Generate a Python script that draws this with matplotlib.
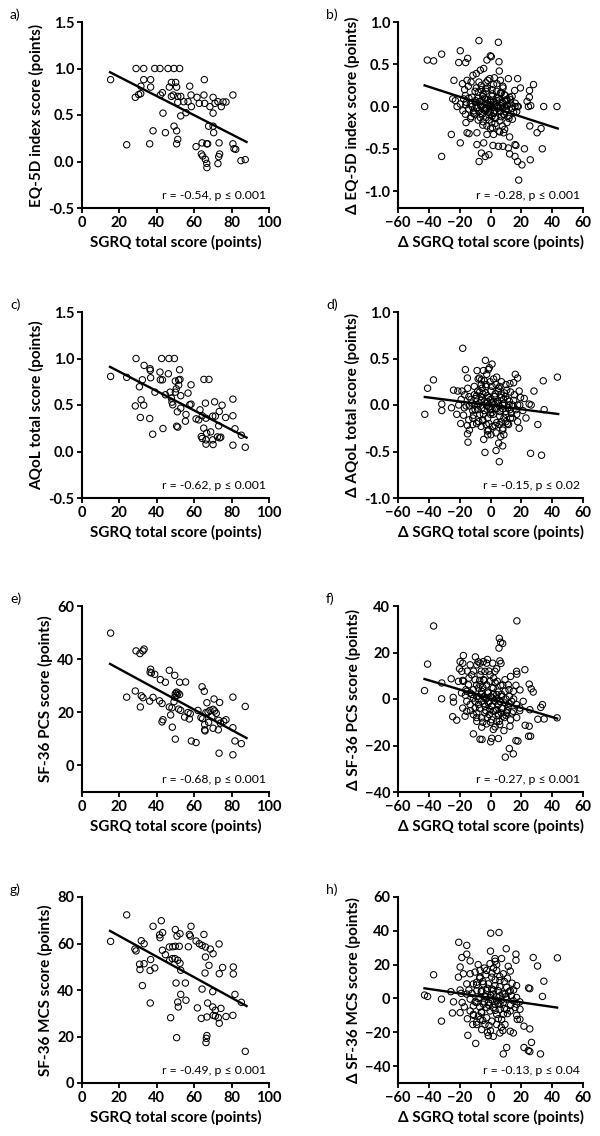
import matplotlib
matplotlib.use("Agg")
import matplotlib.pyplot as plt
import numpy as np

plt.rcParams['font.family'] = ['Lato', 'DejaVu Sans']

# ---------------- data ----------------
# panel a: SGRQ vs EQ-5D
a_x = [28.9, 33.0, 38.9, 41.7, 46.0, 49.2, 52.2, 15.3, 33.0, 36.7, 65.4, 31.5, 36.7, 47.8, 50.1, 46.7, 50.6, 57.6,
       28.5, 30.3, 31.4, 41.9, 43.0, 47.8, 48.8, 51.2, 52.8, 58.3, 61.5, 65.2, 70.1, 80.7,
       51.2, 54.4, 56.7, 58.5, 62.7, 65.6, 68.4, 71.1, 72.7, 74.5, 75.4, 77.0,
       43.3, 52.8, 55.6, 70.1, 67.7, 70.1, 49.2, 38.0, 44.6, 50.6, 70.4,
       23.9, 36.2, 51.2, 50.6, 61.0, 64.2, 66.7, 67.2, 73.3, 80.7, 81.3, 82.2,
       63.8, 64.5, 66.0, 66.7, 66.8, 73.6, 73.1, 72.7, 85.0, 87.3]
a_y = [1.0, 1.0, 1.0, 1.0, 1.0, 1.0, 1.0, 0.88, 0.88, 0.88, 0.88, 0.81, 0.80, 0.85, 0.85, 0.80, 0.80, 0.81,
       0.69, 0.72, 0.73, 0.715, 0.74, 0.70, 0.715, 0.70, 0.70, 0.715, 0.69, 0.715, 0.69, 0.715,
       0.636, 0.643, 0.643, 0.59, 0.625, 0.625, 0.59, 0.625, 0.643, 0.59, 0.64, 0.64,
       0.52, 0.49, 0.525, 0.52, 0.38, 0.38, 0.38, 0.33, 0.31, 0.33, 0.31,
       0.18, 0.19, 0.238, 0.19, 0.16, 0.20, 0.19, 0.19, 0.20, 0.19, 0.138, 0.131,
       0.081, 0.059, 0.023, -0.02, -0.066, 0.08, 0.052, -0.023, 0.009, 0.02]

# panel c: SGRQ vs AQoL
c_x = [28.9, 42.6, 46.5, 49.4, 15.3, 23.9, 33.2, 36.4, 36.5, 36.7, 41.7, 46.2, 41.9, 43.0, 32.3, 52.2, 65.2, 67.9,
       49.9, 51.7, 52.4, 30.7, 39.0, 51.7, 50.4, 58.3, 47.1, 49.9, 44.6, 52.8, 56.7, 47.8,
       31.6, 28.5, 33.0, 48.1, 48.5, 52.8, 57.6, 58.3, 63.1, 66.0, 70.9, 74.9, 80.7,
       31.2, 36.2, 51.0, 55.6, 55.3, 61.0, 62.4, 64.3, 66.3, 69.9, 71.3, 73.4, 76.8, 80.7,
       43.3, 50.6, 51.2, 37.8, 65.1, 68.8, 73.1, 81.8, 85.2,
       63.8, 64.3, 66.7, 66.3, 69.9, 72.4, 73.6, 74.2, 66.3, 70.1, 80.7, 87.3]
c_y = [1.0, 1.0, 1.0, 1.0, 0.807, 0.797, 0.926, 0.89, 0.872, 0.793, 0.854, 0.836, 0.771, 0.771, 0.771, 0.879, 0.775, 0.775,
       0.757, 0.768, 0.775, 0.696, 0.638, 0.714, 0.674, 0.717, 0.638, 0.638, 0.61, 0.60, 0.628, 0.574,
       0.556, 0.49, 0.498, 0.531, 0.502, 0.466, 0.502, 0.509, 0.448, 0.52, 0.534, 0.498, 0.563,
       0.366, 0.355, 0.427, 0.398, 0.326, 0.351, 0.34, 0.384, 0.358, 0.38, 0.38, 0.43, 0.366, 0.384,
       0.247, 0.272, 0.262, 0.186, 0.251, 0.211, 0.276, 0.244, 0.175,
       0.161, 0.14, 0.197, 0.125, 0.125, 0.157, 0.147, 0.154, 0.079, 0.075, 0.068, 0.046]

# panel e: SGRQ vs SF-36 PCS
e_x = [15.3, 28.9, 31.0, 33.2, 32.6, 36.7, 36.4, 37.1, 38.9, 46.7, 49.6, 41.9, 44.6, 52.2, 55.4,
       64.2, 65.4, 50.6, 51.3, 49.9, 52.2, 50.8, 49.6, 28.5, 31.7, 32.6, 23.9, 38.0, 36.2, 41.5, 42.8, 31.2,
       80.7, 70.6, 73.6, 87.3, 66.8,
       46.7, 48.1, 49.2, 51.7, 52.8, 47.4, 54.9, 56.7, 57.9, 57.4, 62.0, 63.6, 66.3, 67.4, 68.4, 70.1, 70.9, 71.8,
       69.5, 64.5, 65.6, 67.7, 73.1, 75.8, 77.0, 74.0, 70.1, 65.6, 65.8, 72.9, 80.7,
       43.3, 42.8, 48.3, 49.9, 58.5, 61.0, 81.8, 85.2, 73.3, 80.7]
e_y = [49.8, 43.1, 42.1, 43.8, 43.1, 36.2, 35.1, 34.8, 34.3, 35.8, 33.9, 32.3, 31.3, 31.3, 31.4,
       29.6, 27.9, 27.6, 27.2, 27.0, 26.7, 26.4, 25.7, 28.0, 26.2, 25.5, 25.7, 25.6, 24.2, 24.3, 23.3, 22.0,
       25.7, 25.0, 23.7, 22.2, 23.6,
       22.0, 21.7, 24.0, 21.2, 20.7, 19.0, 18.2, 19.9, 19.5, 17.5, 20.7, 18.0, 19.9, 20.1, 20.7, 21.1, 20.5, 19.6,
       18.3, 17.6, 15.4, 16.2, 17.0, 16.6, 17.2, 15.9, 14.0, 13.4, 13.0, 13.4, 14.2,
       17.2, 16.4, 14.4, 9.9, 9.2, 8.6, 9.2, 8.2, 4.6, 4.0]

# panel g: SGRQ vs SF-36 MCS
g_x = [23.9, 42.4, 38.0, 58.3, 43.1, 41.5, 41.7, 49.9, 52.4, 50.8, 57.4, 57.9, 65.2, 15.3, 31.7, 33.2, 28.3, 28.9,
       46.7, 48.5, 49.9, 52.0, 56.9, 61.0, 62.7, 64.2, 66.0, 73.3, 68.6, 70.1, 43.0, 44.6,
       30.8, 33.2, 31.0, 36.7, 36.4, 38.9, 46.9, 48.3, 49.7, 51.2, 52.4, 52.8, 66.0, 67.9, 65.8, 73.4, 75.2, 80.9, 80.9,
       32.3, 50.3, 55.3, 64.2, 69.9, 81.8, 85.2, 52.8, 36.5, 51.2, 55.6, 51.5, 47.4, 61.7, 67.2, 69.9, 74.3, 71.3,
       63.8, 66.8, 70.2, 71.3, 72.9, 77.0, 80.7, 73.4,
       50.6, 66.8, 66.5, 66.3, 87.3]
g_y = [72.3, 69.8, 67.4, 67.4, 64.7, 63.7, 62.5, 66.0, 64.2, 63.2, 63.9, 63.2, 63.9, 60.9, 61.2, 59.9, 57.6, 56.8,
       58.5, 58.6, 58.8, 58.8, 58.6, 61.1, 59.9, 59.2, 58.5, 59.8, 57.6, 55.6, 57.1, 55.2,
       51.1, 51.3, 48.8, 53.1, 48.4, 49.5, 52.8, 53.5, 53.5, 52.8, 51.5, 48.5, 54.2, 50.6, 47.3, 47.0, 49.7, 49.9, 46.9,
       41.9, 43.0, 43.0, 40.4, 39.3, 38.1, 34.7, 38.1, 34.4, 34.8, 35.6, 32.7, 28.1, 32.3, 34.4, 32.7, 32.1, 31.3,
       27.8, 28.4, 29.1, 28.8, 28.1, 28.6, 29.1, 25.7,
       19.5, 20.4, 19.2, 17.4, 13.6]

# panel b: delta SGRQ vs delta EQ-5D
b_x = [-42.7, -41.0, -36.9, -31.7, -31.7, -23.7, -25.4, -24.5, -19.6, -20.6, -16.1, -14.8, -19.6, -7.5, 5.1,
       -0.1, 0.5, -2.3, 5.5, 5.7, -7.4, -5.9, -3.4, -1.0, -8.8, 1.6, 5.1, 8.1, 11.6, 12.4, 15.9, 17.6, 20.4,
       18.3, 22.0, 25.8, 33.6, 30.2, 32.8, 25.5, 23.7, 25.2, 27.9, 25.3, 26.1, 24.6, 34.5, 43.1, 19.4, 17.4,
       15.9, 15.7, 17.6, 11.6, 12.4, 15.9, 16.5, 8.5, 9.2, -13.9, -15.2, -15.9, -8.8, -4.4, -2.3, 2.0, -2.3,
       -22.8, -21.7, -19.6, -17.9, -18.2, -16.8, -15.2, -14.4, -12.6, -17.4, -15.7, -16.3, -13.1, -10.9,
       -12.6, -10.4, -11.4, -9.2, -6.6, -4.4, -7.5, -9.2, -7.9, -6.2, -4.8, -3.1, -1.8, -0.5, 2.5, 4.2, 6.4,
       8.1, 6.4, 9.6, 12.4, 10.7, 13.3, 7.7, 4.2, 1.2, -0.1, -2.3, -4.4, -6.6, -8.8, -7.5, -5.3, -3.1, -1.0,
       1.2, 2.9, 4.6, 6.4, 8.5, 10.3, 12.0, 15.0, 14.2, 10.7, 6.0, 3.4, 0.8, -1.0, -4.8, -6.6, 7.7, 5.5, 1.2,
       4.2, 9.0, -3.1, -5.5, -2.3, -0.1, 2.0, 6.4, 10.7, 1.1, -3.4, -9.8, -12.0, -14.2, -16.3,
       -12, -10, -8, -6, -5, -4, -3, -2, -1, 0, 1, 2, 3, 4, 5, 6, 7, 8, 9, 10, 11, 13, 14, 16,
       -14, -11, -9, -7, -6, -4, -3, -2, -1, 0, 1, 2, 3, 4, 5, 6, 7, 8, 9, 10, 12, -8, -5, 0, 3, 6,
       -10, -6, -3, 2, 8, 14, 17, -16, -13, 18]
b_y = [0.0, 0.55, 0.54, 0.62, -0.59, 0.31, -0.33, 0.09, 0.66, 0.52, 0.52, 0.57, -0.43, 0.78, 0.76,
       0.60, 0.59, 0.55, 0.53, 0.42, -0.65, -0.55, -0.59, -0.57, -0.45, -0.46, -0.47, -0.47, -0.49, -0.56,
       -0.59, -0.65, -0.69, -0.87, -0.50, -0.63, -0.50, -0.31, -0.26, -0.23, 0.06, 0.11, 0.26, 0.19, 0.01,
       0.0, 0.0, 0.0, 0.22, 0.0, 0.0, 0.19, 0.33, 0.33, -0.36, -0.45, -0.46, -0.31, -0.27, -0.32, -0.31,
       -0.19, -0.31, -0.43, -0.23, -0.33, -0.33,
       0.07, 0.0, 0.03, -0.05, 0.27, 0.20, 0.31, 0.24, 0.29, 0.09, 0.05, 0.13, 0.03, -0.05, -0.12, -0.09,
       0.37, 0.39, 0.43, 0.45, 0.29, 0.22, 0.17, 0.20, 0.15, 0.21, 0.31, 0.33, 0.34, 0.27, 0.31, 0.22, 0.16,
       0.13, 0.11, 0.07, 0.03, 0.05, 0.11, 0.15, 0.07, 0.03, -0.01, 0.02, -0.01, -0.05, -0.09, -0.13, -0.07,
       -0.01, -0.05, 0.0, -0.05, -0.09, -0.03, -0.11, -0.07, -0.15, -0.19, -0.17, -0.13, -0.19, -0.16, -0.18,
       -0.13, -0.23, -0.29, -0.25, 0.07, 0.0, 0.09, 0.07, -0.03, 0.0, 0.03, 0.01, 0.01, -0.11, -0.05, 0.07,
       0.11, -0.03, -0.09,
       0.0, 0.05, 0.10, 0.0, 0.12, -0.04, 0.18, 0.08, -0.10, 0.05, 0.12, -0.08, 0.02, 0.18, -0.02, 0.08,
       -0.12, 0.04, 0.14, -0.06, 0.02, 0.08, -0.02, 0.04,
       0.10, -0.08, -0.02, 0.06, -0.08, 0.10, -0.02, 0.22, 0.02, -0.06, 0.20, 0.06, -0.14, 0.0, 0.10, -0.06,
       0.16, -0.02, -0.10, 0.08, -0.14, -0.16, -0.22, -0.26, -0.20, -0.30,
       0.18, 0.25, 0.28, 0.26, 0.24, 0.12, -0.06, 0.02, -0.14, 0.0]

# panel d: delta SGRQ vs delta AQoL
d_x = [-42.6, -40.8, -37.0, -31.6, -31.6, -25.3, -24.0, -21.9, -19.3, -18.0, -16.3, -21.2, -18.5, -20.6, -16.7,
       -14.8, -15.0, -14.9, -14.6, -17.5, -14.1, -13.7, -11.5, -15.8, -10.5, -8.7, -7.2, -5.9, -4.6, -3.3, -2.5,
       -1.4, -0.8, 1.0, -4.4, -3.6, -1.8, 0.3, 3.6, 5.3, 5.7, 6.6, 8.7, 7.9, 10.0, 11.7, 12.6, 15.0, 16.1, 17.6,
       18.6, 19.5, 21.9, 17.6, 18.6, 23.0, 25.1, 26.4, 28.2, 30.7, 26.0, 33.1, 34.2, 34.8, 43.4,
       -10.5, -9.4, -8.3, -7.2, -6.1, -5.5, -4.6, -4.0, -3.3, -2.5, -1.8, -1.2, -0.3, 0.3, 1.0, 1.8, 2.5, 3.1,
       4.0, 4.6, 5.3, 6.1, 6.8, 7.9, 8.7, 9.6, 10.5, 11.4, 12.2, 13.5, 14.3, 15.4, 16.5, 17.6, -11.5, -12.6,
       -13.7, -7.6, -6.1, -5.0, -2.8, -1.2, 1.4, 3.6, 5.7, 7.9, 10.0, 14.3, -2.8, -0.3, 3.6, 7.1, 10.0, -8.3,
       -10.5, -5.5, 1.0, 3.6, -1.8, 5.7, 8.5, 12.6, -11.5,
       -12, -10, -9, -8, -7, -6, -5, -4, -3, -2, -1, 0, 1, 2, 3, 4, 5, 6, 7, 8, 9, 10, 11, 12, 13,
       -14, -11, -7, -5, -3, -1, 1, 3, 5, 7, 9, 11, -9, -6, 0, 2, 4, 6, -4, -2, 8,
       15, 17, 19, 21, -17, -19, -15, 13, -8]
d_y = [-0.10, 0.18, 0.27, 0.01, -0.06, -0.03, 0.16, -0.10, -0.20, 0.61, 0.38, 0.15, 0.15, 0.0, 0.11,
       0.18, 0.29, -0.31, -0.40, -0.11, -0.16, -0.27, -0.06, -0.01, 0.20, 0.37, 0.29, 0.27, 0.37, 0.48, 0.33,
       0.38, 0.40, 0.44, -0.37, -0.51, -0.32, -0.32, -0.49, -0.41, -0.61, -0.34, -0.32, -0.44, -0.07, -0.21,
       0.23, 0.24, 0.33, 0.29, 0.15, 0.08, 0.07, -0.18, -0.25, -0.14, 0.01, 0.0, 0.15, -0.21, -0.52, -0.54,
       0.26, -0.05, 0.30,
       0.0, 0.07, -0.05, 0.02, 0.09, -0.03, -0.10, 0.04, 0.13, -0.01, -0.14, 0.08, -0.05, 0.15, 0.02, -0.10,
       0.09, -0.04, -0.19, 0.04, 0.18, -0.07, 0.11, 0.0, -0.14, 0.09, 0.16, -0.03, 0.04, -0.09, 0.0, 0.11,
       -0.05, 0.0, -0.14, 0.06, -0.01, -0.18, -0.23, -0.16, -0.21, -0.27, -0.23, -0.30, -0.21, -0.27, -0.18,
       -0.14, 0.22, 0.25, 0.22, 0.25, 0.22, 0.15, 0.11, 0.18, -0.05, 0.02, 0.03, -0.01, 0.06, -0.05, -0.21,
       0.02, -0.05, 0.10, 0.0, -0.10, 0.05, 0.12, -0.06, 0.02, 0.10, -0.02, 0.06, -0.08, 0.04, 0.12, -0.04,
       0.02, -0.12, 0.08, -0.04, 0.02, -0.10, 0.06, 0.0, -0.14,
       0.09, -0.11, 0.14, -0.17, 0.20, -0.20, 0.20, -0.22, 0.15, -0.18, 0.13, -0.20, -0.20, 0.22, -0.10,
       0.28, 0.30, 0.20, 0.26, -0.28, -0.25,
       0.05, -0.10, 0.0, -0.06, -0.03, 0.06, -0.22, 0.14, 0.28]

# panel f: delta SGRQ vs delta SF-36 PCS
f_x = [-36.9, -40.8, -42.8, -31.6, -31.7, -25.5, -24.2, -24.0, -24.5, -21.9, -17.6, -19.7, -18.0, -20.1, -18.6,
       -20.8, -17.6, -18.8, -16.3, -18.0, -16.5, -15.4, -9.8, -11.1, -6.8, -5.5, 0.1, 0.8, 5.1, 5.7, 6.6, 7.9,
       5.5, 6.1, 6.8, 9.6, 12.2, 17.1, 16.9, 17.1, 22.3, 25.1, 27.7, 26.4, 22.5, 25.1, 24.7, 26.0, 16.5, 17.8,
       14.8, 30.7, 33.7, 32.6, 34.8, 43.2, 25.5, 21.2, 19.1, 16.5, 14.8, 12.6, 8.7, 5.7, 1.8, -2.5, -5.7, -8.9,
       -11.1,
       -13.2, -12.2, -8.9, -6.8, -4.6, -2.5, 1.4, 2.9, -0.3, -3.6, -6.8, -10.0, -14.3, -13.2, -11.1, -8.9,
       -6.8, -4.6, -2.5, -0.3, 1.8, 4.4, 6.6, 9.4, 11.5, 13.0, 14.8, 12.2, 9.4, 7.2, 4.0, 1.4, -1.4, -4.2,
       -5.7, -7.8, -10.0, -13.2, -15.4, -3.6, -1.4, 0.8, 2.9, 5.1, 7.2, 9.4, 11.5, 13.7, 16.9, 19.1, 10.5,
       8.0, 5.1, 1.8, -0.8, -3.6, -5.7, -8.9, 0.8, 4.0, -2.5, -0.3, 4.0, -11.1, 6.1, -5.7, -7.8, -15.4,
       -12, -10, -9, -8, -7, -6, -5, -4, -3, -2, -1, 0, 1, 2, 3, 4, 5, 6, 7, 8, 9, 10, 11, 12, 13,
       -14, -11, -9, -6, -4, -2, 0, 2, 4, 6, 8, 10, 12, 14, -16, -13, -7, -3, 1, 3, 5, 7, -1, -5,
       15, 17, 19, -18, -15, 3, -8, -2]
f_y = [31.4, 15.0, 3.6, 6.9, 0.1, 8.7, 0.7, -1.3, -7.6, -9.1, 18.7, 16.1, 15.4, 13.0, 11.9,
       7.6, 7.6, 2.6, 1.6, -3.9, -7.4, -5.3, 18.1, -15.0, -17.3, -17.4, -18.4, -16.9, -17.0, 26.1, 24.4, 23.9,
       21.9, 16.4, 15.3, -25.0, -21.3, 33.6, 11.9, 10.7, 12.6, 6.4, 3.0, 4.4, -11.3, -11.7, -16.0, -16.0,
       -17.9, -18.1, -23.6, -8.7, -2.4, -3.6, -8.6, -8.1, -4.6, -1.0, 3.9, 5.9, -5.3, -11.7, -13.6, -9.6,
       -13.1, -10.7, -12.1, -9.6, -6.7,
       14.7, 10.4, 14.7, 15.4, 16.1, 15.4, 15.4, 11.9, 10.4, 11.9, 10.4, 8.3, 6.1, 2.6, 4.0, 1.1,
       6.1, 8.3, 6.1, 7.6, 4.7, 7.6, 5.9, 8.3, 6.1, 9.7, 3.3, 1.1, 3.3, 1.1, 1.9, 0.4, 2.6, 1.1,
       -1.0, -2.4, -3.9, -2.4, -1.0, -3.1, -1.7, -3.1, -1.0, -2.4, -3.9, -1.7, -3.1, -1.0, -2.4, -3.9, -6.0,
       -7.4, -6.4, -5.3, -6.7, -6.0, -8.1, -6.0, -8.9, -9.6, 0.4, -4.6, -4.6, 0.4, -1.0, 3.3, 4.7, 3.3,
       2, -1, 6, 0, -4, 2, 5, -2, 0, 3, -1, 1, -3, 2, -5, 0, -7, -1, 2, -4, -8, 0, -5, -2, -9,
       9, 12, -8, 12, 8, -8, -10, 9, 13, -11, 6, -7, 4, -6, 4, -5, 8, -5, 5, 7, 3, -6, 12, -10,
       0, -8, -5, 8, 12, -12, 16, 17]

# panel h: delta SGRQ vs delta SF-36 MCS
h_x = [-42.8, -40.8, -36.9, -31.8, -31.8, -25.7, -24.0, -24.7, -20.6, -15.4, -18.6, -15.4, -13.2, -19.7, -17.6,
       -20.8, -19.7, -18.4, -19.7, -14.7, -9.6, 0.1, 5.5, 10.2, 7.2, 11.5, 12.8, 16.5, 16.5, 16.9, 27.7, 30.5,
       43.4, 34.6, 33.7, 25.5, 24.7, 32.4, 8.3, 26.6, 25.5, 24.5, 21.7, 10.5, 25.5, 21.7, 19.1, 17.4, 14.8,
       12.8, 9.4, 6.1, 1.8, -1.4, -5.7, -8.9, -11.5, -6.8, 16.9, 16.9, 19.1, 12.8, 15.9,
       -11.1, -8.9, -6.8, -4.6, -2.5, -0.3, 0.8, 2.9, 4.0, 6.1, 8.3, 10.5, 12.8, -2.5, -0.3, 1.8, 4.0, 6.1,
       8.3, 10.5, -6.8, -8.9, -11.1, -13.2, -15.4, -4.6, -2.5, -0.3, 1.8, 4.0, 6.1, 8.3, 10.5, -5.7, -7.8,
       -11.1, -13.2, -2.5, 0.8, 4.0, 7.2, -3.6, -6.8, -10.0, -13.2, -15.4, -1.4, 2.9, 5.1, 0.8, -3.6, -5.7,
       -8.9, -1.4, 2.9, 6.1, 9.4, 14.8, 13.6,
       -12, -10, -9, -8, -7, -6, -5, -4, -3, -2, -1, 0, 1, 2, 3, 4, 5, 6, 7, 8, 9, 10, 11, 12, 13,
       -14, -11, -7, -5, -3, -1, 1, 3, 5, 7, 9, 11, -9, -6, 0, 2, 4, 6, -4, -2, 8,
       15, 17, 19, -17, -19, -15, 14, -8, 0, 3]
h_y = [2.0, 1.2, 14.0, -0.4, -13.4, 4.0, -2.0, -8.6, 33.2, 31.4, 24.2, 26.2, 22.2, 18.6, 14.6,
       12.6, 5.0, -2.4, -8.4, -21.8, -26.6, 38.6, 39.0, 29.4, 23.6, 19.0, 16.2, 26.2, 22.6, 7.6, 24.2, 19.2,
       24.0, 10.2, 1.2, 5.8, 6.2, -32.8, -32.8, -26.0, -31.4, -30.8, -29.0, -29.0, -18.0, -16.4, -12.4, -12.4,
       -20.4, -19.4, -15.4, -20.4, -22.4, -22.0, -18.4, -15.4, -15.4, -12.4, 0.6, -3.4, -6.4, -7.4, -5.4,
       8.6, 4.6, 12.6, 8.6, 16.6, 20.6, 12.6, 23.6, 16.6, 10.6, 14.6, 6.6, 4.6, 4.6, 0.6, 2.6, -1.4, 1.6,
       -2.4, -0.4, 0.6, -2.4, -4.4, -0.4, 2.6, -3.4, -5.4, -7.4, -5.4, -9.4, -6.4, -9.4, -6.4, -8.4, -10.4,
       -9.4, -7.4, -11.4, -13.4, -15.4, -12.4, -15.4, 16.6, 15.6, 14.6, 8.6, 8.6, 7.6, 4.6, 5.6, 1.6, 4.6,
       9.6, -2.4, -3.4, -3.4, 2.6, -1.4, 1.6,
       3, -2, 8, 0, -5, 4, 10, -2, 1, 6, -4, 2, -1, 5, -7, 1, -3, 7, -1, 3, -6, 1, -9, 4, -4,
       5, -10, 12, -13, 14, -16, 15, 11, -12, -17, 10, 12, -14, -8, -19, 18, 20, 13, 18, -20, -19,
       5, -10, -2, -5, 3, -12, 9, 20, 28, 22]

# regression line end points (x, y)
a_fit = [(15, 0.96), (88, 0.21)]
c_fit = [(15, 0.91), (88, 0.15)]
e_fit = [(15, 38.2), (88, 10.3)]
g_fit = [(15, 65.4), (88, 33.1)]
b_fit = [(-42.7, 0.25), (43.6, -0.26)]
d_fit = [(-42.6, 0.086), (43.9, -0.097)]
f_fit = [(-42.8, 8.6), (43.2, -8.4)]
h_fit = [(-42.8, 6.0), (43.2, -5.4)]

panel_labels = ['a)', 'b)', 'c)', 'd)', 'e)', 'f)', 'g)', 'h)']
y_labels = ['EQ-5D index score (points)', '\u0394 EQ-5D index score (points)',
            'AQoL total score (points)', '\u0394 AQoL total score (points)',
            'SF-36 PCS score (points)', '\u0394 SF-36 PCS score (points)',
            'SF-36 MCS score (points)', '\u0394 SF-36 MCS score (points)']
x_labels = ['SGRQ total score (points)', '\u0394 SGRQ total score (points)']
stats = ['r = -0.54, p \u2264 0.001', 'r = -0.28, p \u2264 0.001',
         'r = -0.62, p \u2264 0.001', 'r = -0.15, p \u2264 0.02',
         'r = -0.68, p \u2264 0.001', 'r = -0.27, p \u2264 0.001',
         'r = -0.49, p \u2264 0.001', 'r = -0.13, p \u2264 0.04']
y_limits = [(-0.5, 1.5), (-1.2, 1.0), (-0.5, 1.5), (-1.0, 1.0), (-10, 60), (-40, 40), (0, 80), (-50, 60)]
y_ticks = [[-0.5, 0.0, 0.5, 1.0, 1.5], [-1.0, -0.5, 0.0, 0.5, 1.0],
           [-0.5, 0.0, 0.5, 1.0, 1.5], [-1.0, -0.5, 0.0, 0.5, 1.0],
           [0, 20, 40, 60], [-40, -20, 0, 20, 40], [0, 20, 40, 60, 80], [-40, -20, 0, 20, 40, 60]]
x_limits = [(0, 100), (-60, 60)]
x_ticks = [[0, 20, 40, 60, 80, 100], [-60, -40, -20, 0, 20, 40, 60]]

xs = [a_x, b_x, c_x, d_x, e_x, f_x, g_x, h_x]
ys = [a_y, b_y, c_y, d_y, e_y, f_y, g_y, h_y]
fits = [a_fit, b_fit, c_fit, d_fit, e_fit, f_fit, g_fit, h_fit]

# ---------------- figure ----------------
W, H = 600, 1136
fig = plt.figure(figsize=(W / 100, H / 100), dpi=100)

col_left = [82, 398]
col_width = [187, 185]
row_top = [22, 312, 606, 897]
ax_h = 186

for i in range(8):
    r, c = divmod(i, 2)
    left = col_left[c] / W
    bottom = 1 - (row_top[r] + ax_h) / H
    ax = fig.add_axes([left, bottom, col_width[c] / W, ax_h / H])
    ax.scatter(xs[i], ys[i], s=21, facecolors='none', edgecolors='black', linewidths=0.75, zorder=2)
    (x0, y0), (x1, y1) = fits[i]
    ax.plot([x0, x1], [y0, y1], color='black', lw=1.7, zorder=3)
    ax.set_xlim(*x_limits[c])
    ax.set_ylim(*y_limits[i])
    ax.set_xticks(x_ticks[c])
    ax.set_yticks(y_ticks[i])
    if i in (0, 1, 2, 3):
        ax.set_yticklabels([f'{v:.1f}' for v in y_ticks[i]])
    for s in ('top', 'right'):
        ax.spines[s].set_visible(False)
    for s in ('left', 'bottom'):
        ax.spines[s].set_linewidth(1.5)
    ax.tick_params(direction='out', length=3.5, width=1.3, labelsize=10.5, pad=2)
    for lab in ax.get_xticklabels() + ax.get_yticklabels():
        lab.set_fontweight('bold')
    ax.set_xlabel(x_labels[c], fontsize=11, fontweight='bold', labelpad=4)
    ax.set_ylabel(y_labels[i], fontsize=11, fontweight='bold', labelpad=3)
    ax.text(0.985, 0.065, stats[i], transform=ax.transAxes, ha='right', va='center', fontsize=8.8)
    fig.text((col_left[c] - 72) / W, 1 - (row_top[r] - 7) / H, panel_labels[i],
             ha='left', va='center', fontsize=10)

fig.savefig('out.png', dpi=100)
